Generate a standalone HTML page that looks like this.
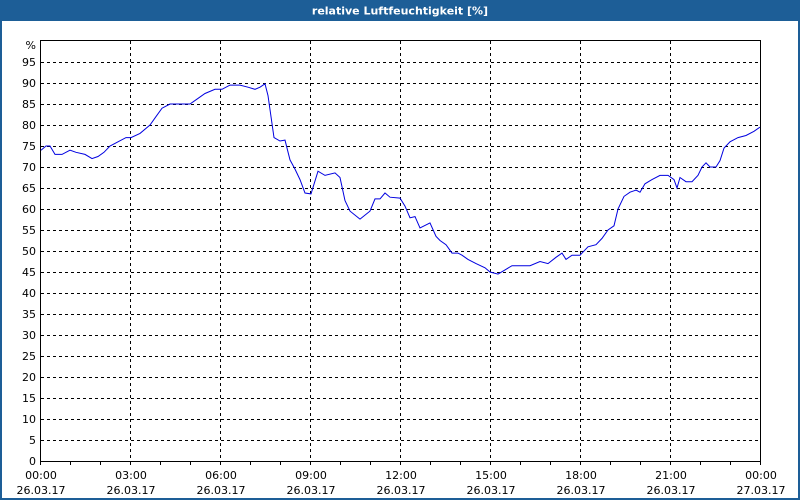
<!DOCTYPE html>
<html><head><meta charset="utf-8"><style>
body{margin:0;background:#fff}
svg{display:block}
text{font-family:"DejaVu Sans","Liberation Sans",sans-serif;font-size:11px;fill:#000}
</style></head><body>
<svg width="800" height="500" xmlns="http://www.w3.org/2000/svg">
<rect x="0" y="0" width="800" height="500" fill="#1d5e97"/>
<rect x="2" y="21" width="796" height="477" fill="#fff"/>
<text x="400" y="14.5" text-anchor="middle" style="fill:#fff;font-weight:bold;font-size:11px">relative Luftfeuchtigkeit [%]</text>
<g stroke="#000" stroke-dasharray="3,3" stroke-width="1" shape-rendering="crispEdges">
<path d="M41 440.5H760M41 419.5H760M41 398.5H760M41 377.5H760M41 356.5H760M41 335.5H760M41 314.5H760M41 293.5H760M41 272.5H760M41 251.5H760M41 230.5H760M41 209.5H760M41 188.5H760M41 167.5H760M41 146.5H760M41 125.5H760M41 104.5H760M41 83.5H760M41 62.5H760"/>
<path d="M130.5 41V461M220.5 41V461M310.5 41V461M400.5 41V461M490.5 41V461M580.5 41V461M670.5 41V461"/>
</g>
<g stroke="#000" fill="none" shape-rendering="crispEdges">
<rect x="40.5" y="40.5" width="720" height="421"/>
<path d="M70.5 461V465M100.5 461V465M130.5 461V465M160.5 461V465M190.5 461V465M220.5 461V465M250.5 461V465M280.5 461V465M310.5 461V465M340.5 461V465M370.5 461V465M400.5 461V465M430.5 461V465M460.5 461V465M490.5 461V465M520.5 461V465M550.5 461V465M580.5 461V465M610.5 461V465M640.5 461V465M670.5 461V465M700.5 461V465M730.5 461V465M40.5 461V465M760.5 461V465"/>
</g>
<g text-anchor="end">
<text x="36" y="49">%</text>
<text x="36" y="66">95</text><text x="36" y="87">90</text><text x="36" y="108">85</text><text x="36" y="129">80</text><text x="36" y="150">75</text><text x="36" y="171">70</text><text x="36" y="192">65</text><text x="36" y="213">60</text><text x="36" y="234">55</text><text x="36" y="255">50</text><text x="36" y="276">45</text><text x="36" y="297">40</text><text x="36" y="318">35</text><text x="36" y="339">30</text><text x="36" y="360">25</text><text x="36" y="381">20</text><text x="36" y="402">15</text><text x="36" y="423">10</text><text x="36" y="444">5</text><text x="36" y="465">0</text>
</g>
<g text-anchor="middle">
<text x="41" y="479">00:00</text><text x="41" y="494">26.03.17</text>
<text x="131" y="479">03:00</text><text x="131" y="494">26.03.17</text>
<text x="221" y="479">06:00</text><text x="221" y="494">26.03.17</text>
<text x="311" y="479">09:00</text><text x="311" y="494">26.03.17</text>
<text x="401" y="479">12:00</text><text x="401" y="494">26.03.17</text>
<text x="491" y="479">15:00</text><text x="491" y="494">26.03.17</text>
<text x="581" y="479">18:00</text><text x="581" y="494">26.03.17</text>
<text x="671" y="479">21:00</text><text x="671" y="494">26.03.17</text>
<text x="761" y="479">00:00</text><text x="761" y="494">27.03.17</text>
</g>
<polyline fill="none" stroke="#0000e0" stroke-width="1" id="ln" points=""/>
<script>
var d=[[41,74],[46,75],[50,75],[55,73],[62,73],[70,74],[76,73.5],[85,73],[92,72],[98,72.5],[104,73.5],[110,75],[118,76],[126,77],[131,77],[140,78],[150,80],[156,82],[162,84],[170,85],[180,85],[190,85],[196,86],[205,87.5],[215,88.5],[222,88.5],[230,89.5],[240,89.5],[248,89],[255,88.5],[260,89],[265,89.8],[268,87],[274,77],[280,76.2],[285,76.4],[290,71.7],[295,69.5],[300,67],[305,63.8],[311,63.6],[318,69],[325,68],[335,68.6],[340,67.5],[345,62],[350,59.5],[360,57.6],[370,59.5],[375,62.4],[380,62.4],[385,63.8],[390,62.8],[400,62.6],[405,60.7],[410,57.9],[415,58.2],[420,55.5],[430,56.7],[436,53.5],[440,52.5],[446,51.5],[452,49.5],[458,49.5],[462,49],[468,48],[476,47],[485,46],[490,45],[498,44.5],[505,45.5],[512,46.5],[520,46.5],[530,46.5],[540,47.5],[548,47],[556,48.5],[562,49.5],[566,48],[572,49],[580,49],[588,51],[596,51.5],[602,53],[608,55],[614,56],[618,60],[624,63],[630,64],[636,64.5],[640,64],[645,66],[652,67],[660,68],[668,68],[674,67],[677,65],[680,67.5],[686,66.5],[692,66.5],[698,68],[702,70],[706,71],[710,70],[716,70],[720,71.5],[724,74.5],[730,76],[738,77],[746,77.5],[754,78.5],[760,79.5]];
document.getElementById('ln').setAttribute('points',d.map(function(p){return p[0]+','+(461-p[1]*4.2).toFixed(1)}).join(' '));
</script>
</svg>
</body></html>
